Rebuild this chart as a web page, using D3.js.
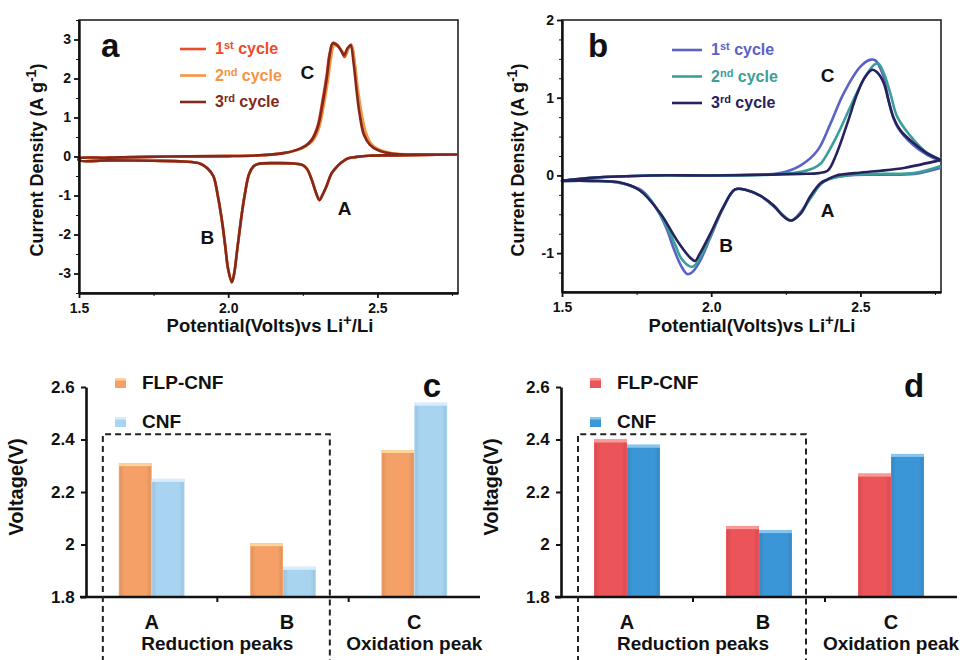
<!DOCTYPE html>
<html lang="en">
<head>
  <meta charset="UTF-8">
  <title>CV curves and peak voltages</title>
  <script src="https://d3js.org/d3.v7.min.js"></script>
  <style>
    body { margin: 0; background: #fff; }
    svg { display: block; font-family: 'Liberation Sans', Arial, sans-serif; font-weight: bold; }
    .axis path, .axis line { stroke: #111; }
    .axis text { font-family: 'Liberation Sans', Arial, sans-serif; font-weight: bold; fill: #111; }
  </style>
</head>
<body>
  <svg id="chart" width="968" height="660"></svg>

  <script>
    // ---- panel a: CV, FLP-CNF (V, A/g) ----
    const aReduction = [
      [2.77, 0.05], [2.65, 0.04], [2.55, 0.03], [2.47, 0.02], [2.43, -0.01], [2.40, -0.05], [2.38, -0.15],
      [2.36, -0.3], [2.345, -0.45], [2.33, -0.75], [2.315, -1.0], [2.306, -1.12], [2.295, -0.95], [2.28, -0.6],
      [2.265, -0.33], [2.25, -0.22], [2.22, -0.18], [2.16, -0.17], [2.10, -0.19], [2.085, -0.25], [2.07, -0.45],
      [2.055, -1.0], [2.045, -1.5], [2.03, -2.4], [2.02, -3.0], [2.012, -3.22], [2.0, -2.9], [1.99, -2.3],
      [1.98, -1.7], [1.965, -1.0], [1.95, -0.5], [1.93, -0.3], [1.905, -0.18], [1.85, -0.13], [1.75, -0.11],
      [1.6, -0.1], [1.5, -0.1]
    ];
    const aOxidation1 = [
      [1.5, -0.05], [1.6, -0.03], [1.8, 0.0], [2.0, 0.01], [2.1, 0.03], [2.18, 0.08], [2.23, 0.17], [2.26, 0.28],
      [2.28, 0.44], [2.30, 0.8], [2.315, 1.4], [2.33, 2.1], [2.34, 2.65], [2.352, 2.92], [2.366, 2.86], [2.38, 2.7],
      [2.39, 2.55], [2.402, 2.75], [2.412, 2.87], [2.422, 2.45], [2.432, 1.75], [2.442, 1.15], [2.457, 0.58],
      [2.477, 0.31], [2.50, 0.17], [2.55, 0.07], [2.65, 0.05], [2.77, 0.05]
    ];
    const aOxidation2 = [
      [1.5, -0.05], [1.6, -0.03], [1.8, 0.0], [2.0, 0.01], [2.1, 0.03], [2.18, 0.08], [2.23, 0.16], [2.26, 0.26],
      [2.285, 0.42], [2.305, 0.75], [2.32, 1.3], [2.335, 2.0], [2.345, 2.55], [2.355, 2.85], [2.37, 2.82],
      [2.382, 2.7], [2.392, 2.62], [2.404, 2.78], [2.414, 2.82], [2.425, 2.35], [2.435, 1.7], [2.447, 1.1],
      [2.462, 0.6], [2.48, 0.32], [2.505, 0.18], [2.55, 0.08], [2.65, 0.05], [2.77, 0.05]
    ];
    const aOxidation3 = [
      [1.5, -0.05], [1.6, -0.03], [1.8, 0.0], [2.0, 0.01], [2.1, 0.03], [2.18, 0.08], [2.23, 0.17], [2.26, 0.28],
      [2.28, 0.42], [2.30, 0.75], [2.315, 1.3], [2.33, 2.0], [2.34, 2.6], [2.35, 2.9], [2.365, 2.85], [2.378, 2.72],
      [2.388, 2.6], [2.40, 2.78], [2.41, 2.85], [2.42, 2.4], [2.43, 1.7], [2.44, 1.1], [2.455, 0.55], [2.475, 0.3],
      [2.50, 0.17], [2.55, 0.07], [2.65, 0.05], [2.77, 0.05]
    ];

    // ---- panel b: CV, CNF ----
    const bReduction1 = [
      [2.77, 0.1], [2.68, 0.02], [2.55, 0.01], [2.456, 0.0], [2.40, -0.04], [2.37, -0.1], [2.335, -0.27],
      [2.30, -0.47], [2.27, -0.58], [2.245, -0.53], [2.21, -0.4], [2.164, -0.26], [2.12, -0.19], [2.08, -0.18],
      [2.04, -0.42], [1.997, -0.8], [1.96, -1.12], [1.935, -1.25], [1.92, -1.27], [1.90, -1.17], [1.875, -0.95],
      [1.852, -0.7], [1.82, -0.45], [1.77, -0.2], [1.70, -0.1], [1.6, -0.07], [1.5, -0.07]
    ];
    const bReduction2 = [
      [2.77, 0.12], [2.68, 0.03], [2.55, 0.02], [2.456, 0.0], [2.40, -0.04], [2.37, -0.1], [2.335, -0.28],
      [2.30, -0.48], [2.268, -0.58], [2.243, -0.52], [2.21, -0.39], [2.164, -0.26], [2.12, -0.19], [2.08, -0.18],
      [2.04, -0.41], [1.997, -0.78], [1.96, -1.08], [1.94, -1.17], [1.928, -1.17], [1.90, -1.07], [1.88, -0.9],
      [1.85, -0.65], [1.80, -0.33], [1.76, -0.19], [1.70, -0.1], [1.6, -0.07], [1.5, -0.07]
    ];
    const bReduction3 = [
      [2.77, 0.2], [2.65, 0.1], [2.567, 0.06], [2.48, 0.03], [2.42, 0.0], [2.39, -0.05], [2.366, -0.1],
      [2.33, -0.28], [2.30, -0.49], [2.265, -0.58], [2.24, -0.52], [2.21, -0.39], [2.164, -0.26], [2.12, -0.19],
      [2.08, -0.18], [2.04, -0.41], [1.997, -0.75], [1.96, -1.02], [1.946, -1.1], [1.93, -1.06], [1.886, -0.84],
      [1.83, -0.49], [1.76, -0.19], [1.695, -0.09], [1.6, -0.07], [1.5, -0.07]
    ];
    const bOxidation1 = [
      [1.5, -0.07], [1.6, -0.03], [1.8, 0.0], [2.0, 0.0], [2.15, 0.01], [2.23, 0.03], [2.30, 0.13], [2.356, 0.32],
      [2.40, 0.67], [2.443, 1.05], [2.50, 1.4], [2.535, 1.49], [2.55, 1.48], [2.575, 1.3], [2.6, 0.88],
      [2.625, 0.62], [2.68, 0.38], [2.725, 0.26], [2.77, 0.18]
    ];
    const bOxidation2 = [
      [1.5, -0.07], [1.6, -0.03], [1.8, 0.0], [2.0, 0.0], [2.2, 0.01], [2.29, 0.04], [2.34, 0.09], [2.366, 0.15],
      [2.42, 0.5], [2.466, 0.88], [2.51, 1.23], [2.545, 1.42], [2.56, 1.44], [2.58, 1.3], [2.6, 1.06],
      [2.624, 0.75], [2.68, 0.45], [2.72, 0.3], [2.77, 0.2]
    ];
    const bOxidation3 = [
      [1.5, -0.07], [1.6, -0.03], [1.8, 0.0], [2.0, 0.0], [2.2, 0.01], [2.3, 0.02], [2.36, 0.03], [2.39, 0.06],
      [2.42, 0.28], [2.456, 0.67], [2.49, 1.06], [2.516, 1.27], [2.54, 1.36], [2.555, 1.33], [2.577, 1.2],
      [2.595, 0.95], [2.61, 0.75], [2.634, 0.58], [2.68, 0.41], [2.725, 0.28], [2.77, 0.2]
    ];

    const cycleNames = ["st", "nd", "rd"];
    const aColors = ["#ef4b2a", "#f7943f", "#82281c"];
    const bColors = ["#5a62c6", "#3b9f99", "#26225d"];

    // ---- panels c, d: peak voltages ----
    const peakCats = ["A", "B", "C"];
    const seriesNames = ["FLP-CNF", "CNF"];
    const cFLP = [2.31, 2.005, 2.36];
    const cCNF = [2.25, 1.915, 2.54];
    const dFLP = [2.40, 2.07, 2.27];
    const dCNF = [2.38, 2.055, 2.345];

    const svg = d3.select("#chart");
    svg.append("rect").attr("width", 968).attr("height", 660).attr("fill", "#fff");

    function drawCV(opt) {
      const x = d3.scaleLinear().domain([1.5, 2.77]).range(opt.xr);
      const y = d3.scaleLinear().domain(opt.yd).range(opt.yr);
      const g = svg.append("g");

      // frame
      g.append("rect")
        .attr("x", opt.xr[0]).attr("y", opt.yr[1])
        .attr("width", opt.xr[1] - opt.xr[0]).attr("height", opt.yr[0] - opt.yr[1])
        .attr("fill", "none").attr("stroke", "#222").attr("stroke-width", 1.6);

      const line = d3.line().x(d => x(d[0])).y(d => y(d[1])).curve(d3.curveCatmullRom.alpha(0.5));
      opt.cycles.forEach((c, i) => {
        g.append("path").datum(c).attr("d", line)
          .attr("fill", "none").attr("stroke", opt.colors[i])
          .attr("stroke-width", 2.6).attr("stroke-linejoin", "round");
      });

      const xa = g.append("g").attr("class", "axis").attr("transform", `translate(0,${opt.yr[0]})`)
        .call(d3.axisBottom(x).tickValues([1.5, 2.0, 2.5]).tickFormat(d3.format(".1f")).tickSize(5).tickSizeOuter(0));
      xa.select(".domain").attr("stroke-width", 2.4);
      xa.selectAll(".tick line").attr("stroke-width", 1.8);
      xa.selectAll("text").attr("font-size", 14).attr("dy", "0.85em");
      g.append("g").attr("class", "axis").attr("transform", `translate(0,${opt.yr[0]})`)
        .call(d3.axisBottom(x).tickValues([1.75, 2.25, 2.75]).tickFormat("").tickSize(3).tickSizeOuter(0))
        .call(s => s.select(".domain").remove());

      const ya = g.append("g").attr("class", "axis").attr("transform", `translate(${opt.xr[0]},0)`)
        .call(d3.axisLeft(y).tickValues(opt.yTicks).tickFormat(d => String(d)).tickSize(5).tickSizeOuter(0));
      ya.select(".domain").attr("stroke-width", 2.4);
      ya.selectAll(".tick line").attr("stroke-width", 1.8);
      ya.selectAll("text").attr("font-size", 14);
      g.append("g").attr("class", "axis").attr("transform", `translate(${opt.xr[0]},0)`)
        .call(d3.axisLeft(y).tickValues(opt.yMinor).tickFormat("").tickSize(3).tickSizeOuter(0))
        .call(s => s.select(".domain").remove());

      // titles
      const xt = g.append("text").attr("x", opt.xTitle[0]).attr("y", opt.xTitle[1])
        .attr("text-anchor", "middle").attr("font-size", 18.5).attr("fill", "#111");
      xt.append("tspan").text("Potential(Volts)vs Li");
      xt.append("tspan").text("+").attr("font-size", 15).attr("dy", -7);
      xt.append("tspan").text("/Li").attr("dy", 7);

      const yt = g.append("text")
        .attr("transform", `translate(${opt.yTitle[0]},${opt.yTitle[1]}) rotate(-90)`)
        .attr("text-anchor", "middle").attr("font-size", 18).attr("fill", "#111");
      yt.append("tspan").text("Current Density (A g");
      yt.append("tspan").text("-1").attr("font-size", 14).attr("dy", -7);
      yt.append("tspan").text(")").attr("dy", 7);

      g.append("text").attr("x", opt.label[0]).attr("y", opt.label[1])
        .attr("font-size", 33).attr("fill", "#111").text(opt.name);

      // legend
      opt.colors.forEach((c, i) => {
        const ly = opt.legend[1] + i * 26.5;
        g.append("line").attr("x1", opt.legend[0]).attr("x2", opt.legend[0] + opt.legLen)
          .attr("y1", ly).attr("y2", ly).attr("stroke", c).attr("stroke-width", 2.6);
        const t = g.append("text").attr("x", opt.legend[0] + opt.legLen + 9).attr("y", ly + 5)
          .attr("font-size", 16).attr("fill", c);
        t.append("tspan").text(String(i + 1));
        t.append("tspan").text(cycleNames[i]).attr("font-size", 11).attr("dy", -5);
        t.append("tspan").text(" cycle").attr("dy", 5);
      });

      // peak letters
      opt.peaks.forEach(p => {
        g.append("text").attr("x", x(p[1])).attr("y", y(p[2]))
          .attr("text-anchor", "middle").attr("font-size", 19).attr("fill", "#111").text(p[0]);
      });
    }

    drawCV({
      name: "a", xr: [79, 458], yd: [-3.5, 3.5], yr: [293, 20],
      yTicks: [-3, -2, -1, 0, 1, 2, 3], yMinor: [-3.5, -2.5, -1.5, -0.5, 0.5, 1.5, 2.5, 3.5],
      cycles: [aReduction.concat(aOxidation1), aReduction.concat(aOxidation2), aReduction.concat(aOxidation3)],
      colors: aColors, xTitle: [270, 332], yTitle: [43, 160], label: [101, 57], legend: [180, 49], legLen: 26,
      peaks: [["C", 2.265, 1.98], ["A", 2.39, -1.5], ["B", 1.93, -2.25]]
    });
    drawCV({
      name: "b", xr: [562, 941], yd: [-1.5, 2], yr: [292, 20],
      yTicks: [-1, 0, 1, 2], yMinor: [-1.25, -0.75, -0.5, -0.25, 0.25, 0.5, 0.75, 1.25, 1.5, 1.75],
      cycles: [bReduction1.concat(bOxidation1), bReduction2.concat(bOxidation2), bReduction3.concat(bOxidation3)],
      colors: bColors, xTitle: [752, 332], yTitle: [524, 160], label: [588, 57], legend: [672, 50], legLen: 30,
      peaks: [["C", 2.39, 1.2], ["A", 2.39, -0.53], ["B", 2.05, -0.98]]
    });

    function drawBars(opt) {
      const x = d3.scaleBand().domain(peakCats).range(opt.xr).paddingInner(0.5).paddingOuter(0.25);
      const y = d3.scaleLinear().domain([1.8, 2.6]).range([597, 387]);
      const bw = x.bandwidth() / 2;
      const g = svg.append("g");

      const series = [opt.flp, opt.cnf];
      series.forEach((vals, si) => {
        peakCats.forEach((cat, i) => {
          const bx = x(cat) + si * bw, by = y(vals[i]);
          g.append("rect").attr("x", bx).attr("y", by).attr("width", bw).attr("height", y(1.8) - by)
            .attr("fill", opt.colors[si]);
          g.append("rect").attr("x", bx + 1).attr("y", by + 3).attr("width", bw - 2).attr("height", y(1.8) - by - 3)
            .attr("fill", `url(#shade-${opt.name}-${si})`);
          g.append("rect").attr("x", bx).attr("y", by).attr("width", bw).attr("height", 3)
            .attr("fill", opt.tops[si]);
        });
      });

      // axes
      const ya = g.append("g").attr("class", "axis").attr("transform", `translate(${opt.xr[0]},0)`)
        .call(d3.axisLeft(y).tickValues([1.8, 2.0, 2.2, 2.4, 2.6])
          .tickFormat(d => d === 2 ? "2" : d.toFixed(1)).tickSize(5).tickSizeOuter(0));
      ya.select(".domain").attr("stroke-width", 2.6);
      ya.selectAll(".tick line").attr("stroke-width", 2);
      ya.selectAll("text").attr("font-size", 17).attr("dx", "-0.2em");

      g.append("line").attr("x1", opt.xr[0] - 6).attr("x2", opt.xr[1]).attr("y1", y(1.8)).attr("y2", y(1.8))
        .attr("stroke", "#111").attr("stroke-width", 2.6);
      [1, 2].forEach(k => {
        const tx = opt.xr[0] + k * x.step() * 1;
        g.append("line").attr("x1", tx).attr("x2", tx).attr("y1", y(1.8)).attr("y2", y(1.8) + 5)
          .attr("stroke", "#111").attr("stroke-width", 2);
      });

      // dashed box around reduction peaks
      const bx0 = x("A") - 16, bx1 = x("B") + x.bandwidth() + 14, by0 = y(2.42);
      g.append("path")
        .attr("d", `M${bx0},662 L${bx0},${by0} L${bx1},${by0} L${bx1},662`)
        .attr("fill", "none").attr("stroke", "#222").attr("stroke-width", 2)
        .attr("stroke-dasharray", "6,4");

      // category labels
      peakCats.forEach(cat => {
        g.append("text").attr("x", x(cat) + x.bandwidth() / 2 + (cat === "B" ? 4 : 0)).attr("y", 629)
          .attr("text-anchor", "middle").attr("font-size", 20).attr("fill", "#111").text(cat);
      });
      g.append("text").attr("x", (x("A") + x("B") + x.bandwidth()) / 2).attr("y", 650)
        .attr("text-anchor", "middle").attr("font-size", 19).attr("fill", "#111").text("Reduction peaks");
      g.append("text").attr("x", x("C") + x.bandwidth() / 2).attr("y", 650)
        .attr("text-anchor", "middle").attr("font-size", 19).attr("fill", "#111").text("Oxidation peak");

      g.append("text")
        .attr("transform", `translate(${opt.xr[0] - 63},487) rotate(-90)`)
        .attr("text-anchor", "middle").attr("font-size", 20).attr("fill", "#111").text("Voltage(V)");

      // legend
      seriesNames.forEach((s, i) => {
        const ly = 378 + i * 39;
        g.append("rect").attr("x", opt.xr[0] + 29).attr("y", ly).attr("width", 11).attr("height", 10)
          .attr("fill", opt.colors[i]);
        g.append("rect").attr("x", opt.xr[0] + 29).attr("y", ly).attr("width", 11).attr("height", 2.5)
          .attr("fill", opt.tops[i]);
        g.append("text").attr("x", opt.xr[0] + 56).attr("y", ly + 11)
          .attr("font-size", 19).attr("fill", "#111").text(s);
      });

      g.append("text").attr("x", opt.label[0]).attr("y", opt.label[1])
        .attr("text-anchor", "middle").attr("font-size", 33).attr("fill", "#111").text(opt.name);
    }

    // soft side shading for the bars
    const defs = svg.append("defs");
    [["c", 0], ["c", 1], ["d", 0], ["d", 1]].forEach(([n, s]) => {
      const gr = defs.append("linearGradient").attr("id", `shade-${n}-${s}`).attr("x1", 0).attr("x2", 1);
      gr.append("stop").attr("offset", 0).attr("stop-color", "#000").attr("stop-opacity", 0.08);
      gr.append("stop").attr("offset", 0.15).attr("stop-color", "#000").attr("stop-opacity", 0);
      gr.append("stop").attr("offset", 0.85).attr("stop-color", "#000").attr("stop-opacity", 0);
      gr.append("stop").attr("offset", 1).attr("stop-color", "#000").attr("stop-opacity", 0.08);
    });

    drawBars({
      name: "c", xr: [86, 480], flp: cFLP, cnf: cCNF,
      colors: ["#f4a067", "#a9d4f1"], tops: ["#fcd49c", "#d8edfb"], label: [432, 397]
    });
    drawBars({
      name: "d", xr: [561, 957], flp: dFLP, cnf: dCNF,
      colors: ["#eb5459", "#3b96d7"], tops: ["#f79a98", "#86c6f0"], label: [914, 397]
    });
  </script>
</body>
</html>
